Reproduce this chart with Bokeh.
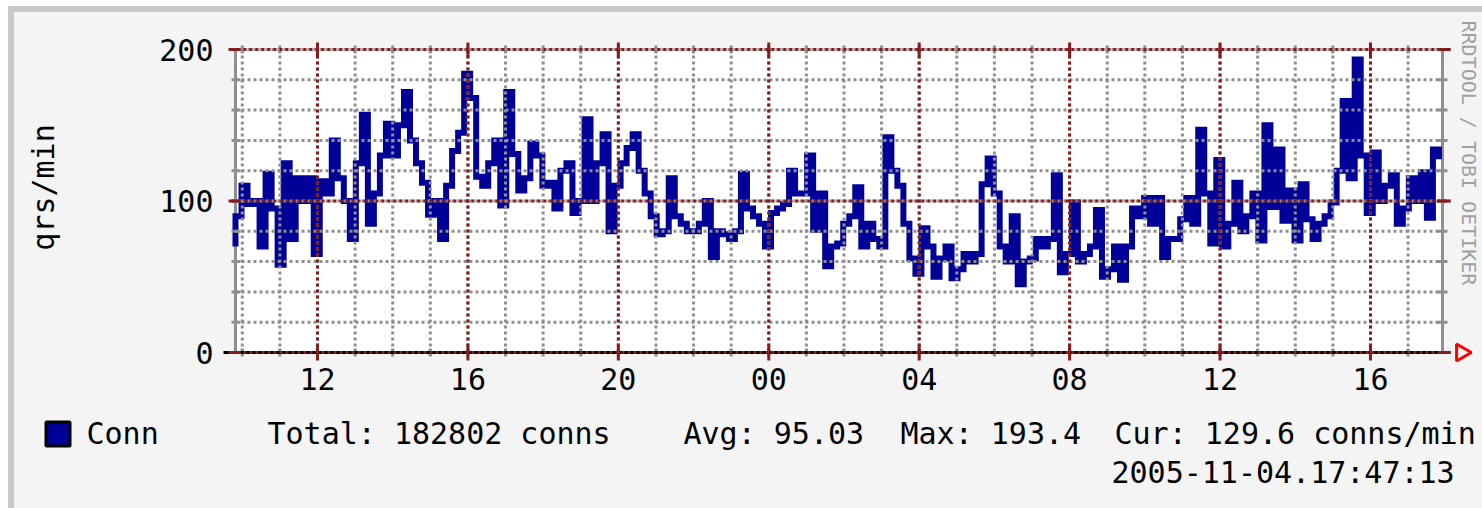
import numpy as np
from math import pi
from bokeh.plotting import figure
from bokeh.models import Range1d, FixedTicker, Label, ColumnDataSource, Spacer
from bokeh.layouts import column, row
from bokeh.core.properties import value
from bokeh.embed import file_html
from bokeh.resources import INLINE

# ---------------- data ----------------
# time in hours since midnight of 2005-11-03 (24 = 00:00 on 11-04)
SERIES_START = 9.74
SERIES_STEP = 0.16
conn_rate = [
    72, 90, 110, 98, 100, 70, 118, 95, 58, 125,
    75, 115, 100, 115, 65, 113, 105, 140, 115, 100,
    75, 125, 157, 85, 105, 130, 151, 130, 150, 172,
    140, 125, 112, 91, 100, 75, 110, 133, 145, 184,
    168, 116, 110, 125, 140, 97, 172, 131, 107, 115,
    138, 130, 110, 112, 95, 120, 125, 92, 100, 154,
    100, 125, 144, 80, 110, 125, 135, 144, 120, 105,
    90, 78, 80, 115, 90, 85, 80, 80, 85, 100,
    63, 80, 78, 75, 80, 118, 95, 90, 85, 70,
    92, 95, 98, 120, 105, 105, 130, 81, 105, 57,
    70, 72, 85, 90, 109, 70, 85, 75, 70, 142,
    120, 110, 85, 62, 52, 82, 70, 50, 62, 70,
    49, 55, 65, 60, 65, 111, 128, 105, 70, 60,
    90, 45, 60, 62, 75, 70, 75, 117, 53, 65,
    99, 60, 65, 70, 94, 50, 55, 70, 48, 70,
    95, 90, 102, 85, 102, 63, 75, 75, 88, 102,
    85, 147, 105, 72, 127, 70, 85, 112, 80, 90,
    105, 74, 150, 96, 134, 87, 107, 74, 111, 88,
    75, 85, 90, 99, 120, 166, 115, 193.4, 130, 92,
    132, 100, 110, 117, 85, 95, 115, 100, 119, 89,
    134, 129.6,
]
AXIS_START = 9.82      # left edge of time axis (h)
AXIS_END = 41.915      # right edge of time axis (h)
VAL_MAX = 200
x_major = [12, 16, 20, 24, 28, 32, 36, 40]
x_major_labels = ["12", "16", "20", "00", "04", "08", "12", "16"]
x_minor = list(range(10, 42))
y_major = [0, 100, 200]
y_minor = list(range(20, 201, 20))
legend_name = "Conn"
stats = ["Total: 182802 conns", "Avg: 95.03", "Max: 193.4", "Cur: 129.6 conns/min"]
timestamp = "2005-11-04.17:47:13"
watermark = "RRDTOOL / TOBI OETIKER"
y_label = "qrs/min"

# ---------------- layout constants (page pixels) ----------------
PX_H = 37.607   # pixels per hour
PX_V = 1.515    # pixels per unit
XP = 1.0 / PX_H
YP = 1.0 / PX_V
PAGE_W, PAGE_H = 1482, 508
CONTENT_X, CONTENT_Y = 14, 12          # inside the grey frame bands
MAIN_H = 398                           # main figure: page y 12..410
FRAME_L = 223                          # page x of plot frame left
AX_L, AX_T, AX_B = 235, 49, 352        # graph area (page px)
FONT = "DejaVu Sans Mono"
BLUE = "#000099"
RED = "#861c1c"
GREY = "#8f8f8f"
BG = "#f4f4f4"
BAND = "#c8c8c8"

W = PAGE_W - CONTENT_X
t = SERIES_START + SERIES_STEP * np.arange(len(conn_rate))
src = ColumnDataSource(dict(t=t, v=conn_rate))

p = figure(width=W, height=MAIN_H, output_backend="svg", toolbar_location=None,
           x_range=Range1d(AXIS_START - (AX_L - FRAME_L) * XP,
                           AXIS_START + (PAGE_W - AX_L) * XP),
           y_range=Range1d(-(362 - AX_B) * YP, VAL_MAX + (AX_T - CONTENT_Y) * YP),
           min_border_left=FRAME_L - CONTENT_X, min_border_right=0,
           min_border_top=0, min_border_bottom=MAIN_H - (362 - CONTENT_Y))
p.background_fill_color = BG
p.border_fill_color = BG
p.outline_line_color = None
p.xgrid.visible = False
p.ygrid.visible = False

# white canvas of the graph
p.quad(left=[AXIS_START], right=[AXIS_END], bottom=[0], top=[VAL_MAX],
       fill_color="white", line_color=None)

# left / right frame lines (grey)
p.segment(x0=[AXIS_START, AXIS_END], x1=[AXIS_START, AXIS_END],
          y0=[0, 0], y1=[VAL_MAX, VAL_MAX], line_color=GREY, line_width=3)

# data line
p.step(x="t", y="v", source=src, mode="center", line_color=BLUE,
       line_width=6, line_join="miter")

n_xm, n_ym = len(x_minor), len(y_minor)
# minor grid (grey dotted)
p.segment(x0=x_minor, x1=x_minor, y0=[0] * n_xm, y1=[VAL_MAX] * n_xm,
          line_color=GREY, line_width=3, line_dash="3 3")
p.segment(x0=[AXIS_START] * n_ym, x1=[AXIS_END] * n_ym, y0=y_minor, y1=y_minor,
          line_color=GREY, line_width=3, line_dash="3 3")
# minor tick stubs
p.segment(x0=x_minor, x1=x_minor, y0=[-4 * YP] * n_xm, y1=[4 * YP] * n_xm,
          line_color=GREY, line_width=3)
p.segment(x0=x_minor, x1=x_minor, y0=[VAL_MAX - 4 * YP] * n_xm, y1=[VAL_MAX + 4 * YP] * n_xm,
          line_color=GREY, line_width=3)
p.segment(x0=[AXIS_START - 4 * XP] * n_ym, x1=[AXIS_START + 5 * XP] * n_ym, y0=y_minor, y1=y_minor,
          line_color=GREY, line_width=3)
p.segment(x0=[AXIS_END - 5 * XP] * n_ym, x1=[AXIS_END + 5 * XP] * n_ym, y0=y_minor, y1=y_minor,
          line_color=GREY, line_width=3)

# x axis base line (black)
p.segment(x0=[AXIS_START - 13 * XP], x1=[AXIS_END + 8 * XP], y0=[0], y1=[0],
          line_color="black", line_width=3)

n_xM, n_yM = len(x_major), len(y_major)
# major grid (red dotted)
p.segment(x0=x_major, x1=x_major, y0=[0] * n_xM, y1=[VAL_MAX] * n_xM,
          line_color=RED, line_width=3, line_dash="3 3")
p.segment(x0=[AXIS_START - 7 * XP] * n_yM, x1=[AXIS_END + 8 * XP] * n_yM, y0=y_major, y1=y_major,
          line_color=RED, line_width=3, line_dash="3 3", line_dash_offset=3)
# major tick stubs
p.segment(x0=x_major, x1=x_major, y0=[-8 * YP] * n_xM, y1=[7 * YP] * n_xM,
          line_color=RED, line_width=3)
p.segment(x0=x_major, x1=x_major, y0=[VAL_MAX - 7 * YP] * n_xM, y1=[VAL_MAX + 7 * YP] * n_xM,
          line_color=RED, line_width=3)
p.segment(x0=[AXIS_START - 7 * XP] * n_yM, x1=[AXIS_START + 5 * XP] * n_yM, y0=y_major, y1=y_major,
          line_color=RED, line_width=3)
p.segment(x0=[AXIS_END - 5 * XP] * n_yM, x1=[AXIS_END + 8 * XP] * n_yM, y0=y_major, y1=y_major,
          line_color=RED, line_width=3)

# axis arrow
p.scatter(x=[AXIS_END + 19 * XP], y=[0], marker="triangle", angle=-pi / 2, size=17,
          fill_color=None, line_color="red", line_width=3)

# watermark (rotated, right side)
p.add_layout(Label(x=AXIS_END + 27 * XP, y=VAL_MAX + (AX_T - 20) * YP, text=watermark,
                   angle=-pi / 2, text_font=FONT, text_font_size="20px", text_color="#a0a0a0",
                   text_baseline="middle", text_align="left"))

# ---- axes ----
p.xaxis.ticker = FixedTicker(ticks=x_major)
p.xaxis.major_label_overrides = {k: v for k, v in zip(x_major, x_major_labels)}
p.yaxis.ticker = FixedTicker(ticks=y_major)
for ax in (p.xaxis[0], p.yaxis[0]):
    ax.axis_line_color = None
    ax.major_tick_line_color = None
    ax.minor_tick_line_color = None
    ax.major_tick_out = 0
    ax.major_tick_in = 0
    ax.major_label_text_font = FONT
    ax.major_label_text_font_size = "30px"
    ax.major_label_text_color = "black"
p.xaxis.major_label_standoff = 5
p.yaxis.major_label_standoff = 10
p.yaxis.axis_label = y_label
p.yaxis.axis_label_text_font = FONT
p.yaxis.axis_label_text_font_size = "30px"
p.yaxis.axis_label_text_font_style = "normal"
p.yaxis.axis_label_text_color = "black"
p.yaxis.axis_label_standoff = 95

# ---------------- legend / statistics strip ----------------
LEG_H = PAGE_H - CONTENT_Y - MAIN_H
LEG_TOP = CONTENT_Y + MAIN_H
q = figure(width=W, height=LEG_H, output_backend="svg", toolbar_location=None,
           x_range=Range1d(CONTENT_X, PAGE_W), y_range=Range1d(PAGE_H, LEG_TOP),
           min_border=0, min_border_left=0, min_border_right=0,
           min_border_top=0, min_border_bottom=0)
q.axis.visible = False
q.grid.visible = False
q.outline_line_color = None
q.background_fill_color = BG
q.border_fill_color = BG

ROW_Y = 433
q.quad(left=[45.5], right=[69.5], top=[421.5], bottom=[445.5],
       fill_color=BLUE, line_color="black", line_width=3)
row_x = [86, 267, 683, 900, 1114]
row_txt = [legend_name] + stats
q.text(x=row_x, y=[ROW_Y] * len(row_x), text=row_txt, text_font=value(FONT),
       text_font_size="30px", text_color="black", text_baseline="middle", text_align="left")
q.text(x=[1111], y=[472], text=[timestamp], text_font=value(FONT),
       text_font_size="30px", text_color="black", text_baseline="middle", text_align="left")

content = column(row(p, spacing=0), row(q, spacing=0), spacing=0,
                 styles={"background-color": BG})
framed = column(Spacer(width=PAGE_W - 8, height=6, styles={"background-color": BAND}),
                row(Spacer(width=6, height=PAGE_H - CONTENT_Y, styles={"background-color": BAND}),
                    content, spacing=0),
                spacing=0)
layout = column(Spacer(width=PAGE_W, height=6),
                row(Spacer(width=8, height=PAGE_H - 6), framed, spacing=0),
                spacing=0)

open("out.html", "w").write(file_html(layout, INLINE))
